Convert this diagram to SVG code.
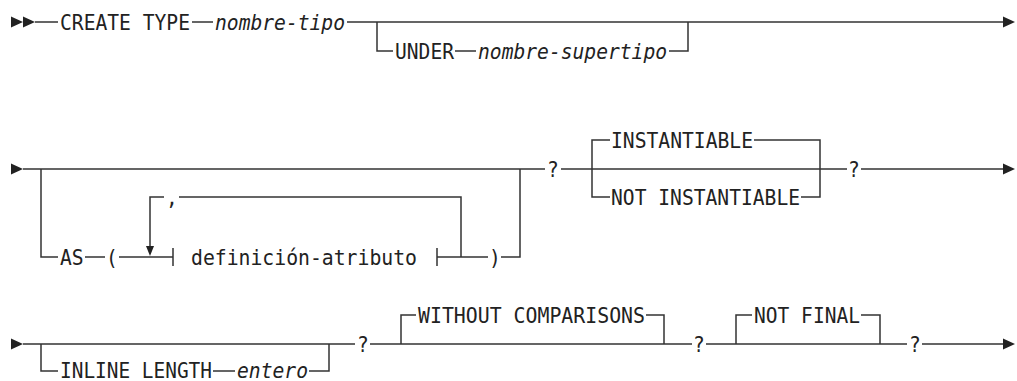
<svg xmlns="http://www.w3.org/2000/svg" width="1017" height="381" viewBox="0 0 1017 381">
<style>
.t{font-family:"DejaVu Sans Mono","Liberation Mono",monospace;font-size:22px;fill:#222}
.i{font-style:italic}
.c{fill:none;stroke:#333;stroke-width:1.5}
.a{fill:#222}
</style>
<defs>
<path id="ah" d="M0,-5.5 L12,0 L0,5.5 Z"/>
</defs>
<rect width="1017" height="381" fill="#fff"/>
<g id="connectors">
<path class="c" d="M35,22 H58 M192,22 H213 M347,22 H1003"/>
<path class="c" d="M377,22 V51 H393 M455,51 H476 M669,51 H688 V22"/>
<path class="c" d="M23,169 H545 M561,169 H847 M861,169 H1003"/>
<path class="c" d="M41,169 V257 H58 M85,257 H105 M119,257 H173 M437,257 H488 M501,257 H520 V169"/>
<path class="c" d="M173,248 V266 M437,248 V266"/>
<path class="c" d="M150,247 V197 H164 M179,197 H461 V257"/>
<path class="c" d="M592,169 V140 H610 M754,140 H820 V197 H801 M610,197 H592 V169"/>
<path class="c" d="M23,344 H355 M370,344 H692 M706,344 H907 M922,344 H1003"/>
<path class="c" d="M41,344 V371 H58 M213,371 H235 M309,371 H329 V344"/>
<path class="c" d="M401,344 V315 H416 M646,315 H664 V344"/>
<path class="c" d="M736,344 V315 H752 M861,315 H880 V344"/>
<use href="#ah" class="a" x="11" y="22"/>
<use href="#ah" class="a" x="23" y="22"/>
<use href="#ah" class="a" x="1003" y="22"/>
<use href="#ah" class="a" x="11" y="169"/>
<use href="#ah" class="a" x="1003" y="169"/>
<use href="#ah" class="a" x="11" y="344"/>
<use href="#ah" class="a" x="1003" y="344"/>
<path class="a" d="M146,246 H154 L150,256 Z"/>
</g>
<g id="create-type"><text class="t" x="60" y="29.5" textLength="130" lengthAdjust="spacingAndGlyphs">CREATE TYPE</text></g>
<g id="nombre-tipo"><text class="t i" x="215" y="29.5" textLength="130" lengthAdjust="spacingAndGlyphs">nombre-tipo</text></g>
<g id="under"><text class="t" x="395" y="58.5" textLength="59" lengthAdjust="spacingAndGlyphs">UNDER</text></g>
<g id="nombre-supertipo"><text class="t i" x="478" y="58.5" textLength="189" lengthAdjust="spacingAndGlyphs">nombre-supertipo</text></g>
<g id="as"><text class="t" x="60" y="264.5" textLength="23.6" lengthAdjust="spacingAndGlyphs">AS</text></g>
<g id="paren-open"><text class="t" x="106" y="264.5" textLength="11.8" lengthAdjust="spacingAndGlyphs">(</text></g>
<g id="comma"><text class="t" x="166" y="204.5" textLength="11.8" lengthAdjust="spacingAndGlyphs">,</text></g>
<g id="definicion-atributo"><text class="t" x="191" y="264.5" textLength="226" lengthAdjust="spacingAndGlyphs">definición-atributo</text></g>
<g id="paren-close"><text class="t" x="489" y="264.5" textLength="11.8" lengthAdjust="spacingAndGlyphs">)</text></g>
<g id="q1"><text class="t" x="547" y="176.5" textLength="11.8" lengthAdjust="spacingAndGlyphs">?</text></g>
<g id="instantiable"><text class="t" x="611" y="147.5" textLength="142" lengthAdjust="spacingAndGlyphs">INSTANTIABLE</text></g>
<g id="not-instantiable"><text class="t" x="611" y="204.5" textLength="189" lengthAdjust="spacingAndGlyphs">NOT INSTANTIABLE</text></g>
<g id="q2"><text class="t" x="848" y="176.5" textLength="11.8" lengthAdjust="spacingAndGlyphs">?</text></g>
<g id="inline-length"><text class="t" x="60" y="377.5" textLength="152" lengthAdjust="spacingAndGlyphs">INLINE LENGTH</text></g>
<g id="entero"><text class="t i" x="237" y="377.5" textLength="71" lengthAdjust="spacingAndGlyphs">entero</text></g>
<g id="q3"><text class="t" x="357" y="351.5" textLength="11.8" lengthAdjust="spacingAndGlyphs">?</text></g>
<g id="without-comparisons"><text class="t" x="418" y="322.5" textLength="227" lengthAdjust="spacingAndGlyphs">WITHOUT COMPARISONS</text></g>
<g id="q4"><text class="t" x="693" y="351.5" textLength="11.8" lengthAdjust="spacingAndGlyphs">?</text></g>
<g id="not-final"><text class="t" x="754" y="322.5" textLength="106" lengthAdjust="spacingAndGlyphs">NOT FINAL</text></g>
<g id="q5"><text class="t" x="909" y="351.5" textLength="11.8" lengthAdjust="spacingAndGlyphs">?</text></g>
</svg>
